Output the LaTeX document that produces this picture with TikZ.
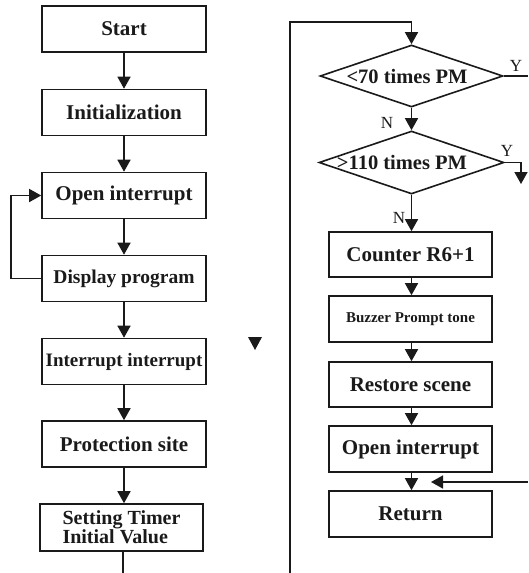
\documentclass[tikz,border=0pt]{standalone}
\usepackage{fontspec}
\setmainfont{Liberation Serif}
\usetikzlibrary{shapes.geometric,arrows.meta}
\definecolor{ink}{HTML}{1A1A1A}
\tikzset{
  fbox/.style={draw=ink, line width=1.6pt, minimum width=164pt, minimum height=46pt, inner sep=0pt, text=ink,
    font=\bfseries\fontsize{21}{23}\selectfont},
  dia/.style={draw=ink, line width=1.6pt, diamond, inner sep=0pt, minimum width=183pt, minimum height=62pt},
  dtext/.style={text=ink, inner sep=0pt, font=\bfseries\fontsize{20.5}{22}\selectfont},
  yn/.style={text=ink, inner sep=0pt, font=\fontsize{17}{19}\selectfont},
  arr/.style={draw=ink, line width=1.5pt, -{Triangle[width=13pt,length=12pt]}},
  ln/.style={draw=ink, line width=1.5pt},
}
\begin{document}
\begin{tikzpicture}[x=1pt,y=-1pt]
\useasboundingbox (0,0) rectangle (528,573);
% left column
\node[fbox] (start) at (124,29) {Start};
\node[fbox] (init) at (124,112.5) {Initialization};
\node[fbox] (open1) at (124,195.5) {Open interrupt};
\node[fbox, font=\bfseries\fontsize{19.5}{21}\selectfont] (disp) at (124,278.5) {Display program};
\node[fbox, font=\bfseries\fontsize{19}{21}\selectfont] (intr) at (124,361.5) {Interrupt interrupt};
\node[fbox] (prot) at (124,444) {Protection site};
\node[fbox, minimum width=163pt, minimum height=47pt, align=left, font=\bfseries\fontsize{20}{17.5}\selectfont] (timer) at (121.5,527.5) {Setting Timer\\Initial Value};
\coordinate (lbot) at (123,573);

\draw[arr] (start) -- (init);
\draw[arr] (init) -- (open1);
\draw[arr] (open1) -- (disp);
\draw[arr] (disp) -- (intr);
\draw[arr] (intr) -- (prot);
\draw[arr] (prot.south) -- (prot.south |- timer.north);
\draw[ln] (timer.south -| lbot) -- (lbot);
\draw[arr] (disp.west) -- ++(-30,0) |- (open1.west);

% orphan arrowhead
\fill[ink] (248,337) -- (262,337) -- (255,350) -- cycle;

% right column
\node[dia] (d1) at (411.5,76) {};
\node[dtext] (d1t) at (407,76) {<70 times PM};
\node[dia, minimum width=185pt, minimum height=63pt] (d2) at (411.5,162.5) {};
\node[dtext] (d2t) at (402,162.5) {>110 times PM};
\node[fbox, minimum width=163pt, minimum height=45pt] (cnt) at (410.5,254.5) {Counter R6+1};
\node[fbox, minimum width=163pt, font=\bfseries\fontsize{15}{17}\selectfont] (buzz) at (410.5,319) {Buzzer Prompt tone};
\node[fbox, minimum width=163pt, minimum height=45pt] (rest) at (410.5,384.5) {Restore scene};
\node[fbox, minimum width=163pt] (open2) at (410.5,449) {Open interrupt};
\node[fbox, minimum width=163pt] (ret) at (410.5,514) {Return};

\node[yn] (y1l) at (516,66) {Y};
\node[yn] (y2l) at (507,151) {Y};
\node[yn] (n1l) at (387,123) {N};
\node[yn] (n2l) at (399,218) {N};

\coordinate (rbot) at (290,573);
\coordinate (rtop) at (290,22);
\draw[arr] (rbot) -- (rtop) -| (d1.north);
\draw[arr] (d1.south) -- (d2.north);
\draw[arr] (d2.south) -- (d2.south |- cnt.north);
\draw[arr] (cnt.south -| d2.south) -- (buzz.north -| d2.south);
\draw[arr] (buzz.south -| d2.south) -- (rest.north -| d2.south);
\draw[arr] (rest.south -| d2.south) -- (open2.north -| d2.south);
\draw[arr] (open2.south -| d2.south) -- (ret.north -| d2.south);

\coordinate (y1e) at (528,76);
\draw[ln] (d1.east) -- (y1e);
\coordinate (y2e) at (521,184);
\draw[arr] (d2.east) -| (y2e);
\coordinate (rin) at (528,482);
\coordinate (rtip) at (431,482);
\draw[arr] (rin) -- (rtip);
\end{tikzpicture}
\end{document}
